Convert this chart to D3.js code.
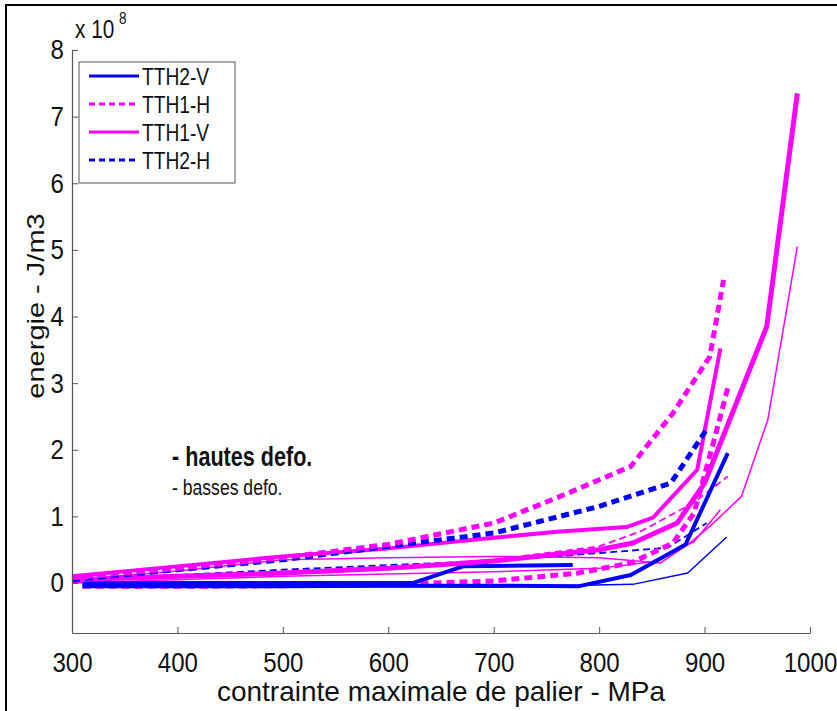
<!DOCTYPE html>
<html><head><meta charset="utf-8">
<script src="https://cdn.jsdelivr.net/npm/d3@7"></script>
<style>body{margin:0;background:#fff}svg{display:block}text{font-family:"Liberation Sans",Arial,sans-serif}</style>
</head><body>
<script>
// x: contrainte maximale de palier (MPa), y: energie (x 1e8 J/m3)
const xTicks = [300,400,500,600,700,800,900,1000];
const yTicks = [0,1,2,3,4,5,6,7,8];
const legendLabels = ["TTH2-V","TTH1-H","TTH1-V","TTH2-H"];

// TTH1-H (magenta, dashed)
const tth1H_hi1 = [[300,0.08],[400,0.22],[500,0.38],[600,0.58],[700,0.9],[760,1.28],[830,1.75],[870,2.55],[905,3.4],[918,4.55]];
const tth1H_hi2 = [[310,-0.05],[400,-0.05],[500,-0.04],[600,-0.02],[700,0.03],[780,0.15],[830,0.3],[870,0.6],[890,1.05],[910,2.2],[922,2.93]];
const tth1H_lo  = [[300,0.02],[500,0.15],[700,0.35],[800,0.55],[840,0.78],[889,1.2],[922,1.6]];
// TTH2-H (blue, dashed)
const tth2H_hi  = [[300,0.05],[400,0.2],[500,0.35],[600,0.55],[700,0.75],[800,1.15],[868,1.5],[903,2.33]];
const tth2H_lo  = [[300,0.02],[400,0.12],[500,0.2],[600,0.27],[700,0.33],[800,0.45],[865,0.53],[902,0.9]];
// TTH1-V (magenta, solid)
const tth1V_hi1 = [[300,0.1],[400,0.25],[500,0.4],[600,0.52],[700,0.68],[760,0.77],[826,0.84],[851,0.98],[893,1.7],[915,3.52]];
const tth1V_hi2 = [[300,0.05],[400,0.1],[500,0.15],[600,0.22],[700,0.33],[800,0.5],[832,0.6],[874,0.9],[900,1.5],[959,3.85],[988,7.35]];
const tth1V_lo1 = [[300,0.05],[400,0.18],[500,0.35],[600,0.38],[700,0.4],[800,0.38],[858,0.3],[886,0.6],[905,0.85],[935,1.3],[960,2.45],[988,5.05]];
const tth1V_lo2 = [[300,0.0],[500,0.1],[700,0.17],[800,0.22],[850,0.32],[890,0.62],[915,1.1]];
// TTH2-V (blue, solid)
const tth2V_hi1 = [[310,-0.05],[400,-0.05],[500,-0.05],[600,-0.04],[700,-0.04],[780,-0.05],[830,0.12],[882,0.58],[922,1.95]];
const tth2V_hi2 = [[310,0.0],[500,0.0],[623,0.0],[671,0.25],[775,0.27]];
const tth2V_lo  = [[310,-0.05],[500,-0.05],[700,-0.06],[832,-0.02],[884,0.15],[921,0.69]];

const BLUE = "#0000ff", MAG = "#ff00ff";
const series = [
  {d: tth2V_lo,  c: BLUE, w: 1.5, dash: null},
  {d: tth1V_lo2, c: MAG,  w: 1.5, dash: null},
  {d: tth1V_lo1, c: MAG,  w: 1.5, dash: null},
  {d: tth2H_lo,  c: BLUE, w: 1.8, dash: "7,4"},
  {d: tth1H_lo,  c: MAG,  w: 1.8, dash: "7,4"},
  {d: tth1H_hi2, c: MAG,  w: 5,   dash: "8,5"},
  {d: tth2V_hi1, c: BLUE, w: 4,   dash: null},
  {d: tth2V_hi2, c: BLUE, w: 4,   dash: null},
  {d: tth1V_hi2, c: MAG,  w: 5,   dash: null},
  {d: tth1V_hi1, c: MAG,  w: 4,   dash: null},
  {d: tth2H_hi,  c: BLUE, w: 5,   dash: "8,5"},
  {d: tth1H_hi1, c: MAG,  w: 5,   dash: "8,5"}
];
const legendStyles = [
  {c: BLUE, dash: null}, {c: MAG, dash: "6,4"}, {c: MAG, dash: null}, {c: BLUE, dash: "6,4"}
];

const W = 837, H = 711;
const SX = 0.8; // horizontal squeeze of the original glyphs
const svg = d3.select("body").append("svg").attr("width", W).attr("height", H);
svg.append("rect").attr("width", W).attr("height", H).attr("fill", "#fff");
// outer frame
svg.append("path").attr("d", `M6,${H} L6,5 L${W},5`).attr("fill","none").attr("stroke","#000").attr("stroke-width",2);

const x = d3.scaleLinear().domain([300,1000]).range([72,810]);
const y = d3.scaleLinear().domain([-0.75,8]).range([633,50]);

const line = d3.line().x(d => x(d[0])).y(d => y(d[1]));
svg.append("g").selectAll("path").data(series).join("path")
  .attr("d", s => line(s.d)).attr("fill","none")
  .attr("stroke", s => s.c).attr("stroke-width", s => s.w)
  .attr("stroke-dasharray", s => s.dash)
  .attr("stroke-linejoin","round");

// helper: squeezed text at (px,py)
function stext(g, px, py, txt, size, opts = {}) {
  const sx = opts.sx ?? SX;
  const t = g.append("text").attr("transform", `translate(${px},${py}) scale(${sx},1)`)
    .attr("font-size", size).attr("fill", "#111").text(txt);
  if (opts.anchor) t.attr("text-anchor", opts.anchor);
  if (opts.weight) t.attr("font-weight", opts.weight);
  if (opts.dy) t.attr("dy", opts.dy);
  return t;
}

// axes
const axisCol = "#555";
const gx = svg.append("g").attr("transform", `translate(0,${y(-0.75)})`)
  .call(d3.axisBottom(x).tickValues(xTicks).tickFormat(d3.format("d")).tickSizeInner(-6).tickSizeOuter(0).tickPadding(19));
const gy = svg.append("g").attr("transform", `translate(${x(300)},0)`)
  .call(d3.axisLeft(y).tickValues(yTicks).tickFormat(d3.format("d")).tickSizeInner(-6).tickSizeOuter(0).tickPadding(8));
[gx, gy].forEach(g => {
  g.select(".domain").attr("stroke", axisCol).attr("stroke-width", 1.2);
  g.selectAll(".tick line").attr("stroke", axisCol);
  g.selectAll("text").attr("font-size", 28).attr("fill", "#111")
    .attr("font-family", '"Liberation Sans", Arial, sans-serif');
});
gx.selectAll("text").attr("dy", "0.71em").attr("transform", `scale(0.86,1)`);
gy.selectAll("text").attr("x", -8 / 0.86).attr("transform", `scale(0.86,1)`);

// exponent label
stext(svg, 75, 38, "x 10", 26);
stext(svg, 119, 24, "8", 17);

// axis titles
stext(svg, (x(300)+x(1000))/2, 701, "contrainte maximale de palier - MPa", 28, {anchor: "middle", sx: 1});
svg.append("text").attr("transform", `translate(44,306) scale(0.85,1) rotate(-90)`).attr("text-anchor","middle")
  .attr("font-size", 29).attr("fill","#111").text("energie - J/m3");

// annotations
stext(svg, 172, 466, "- hautes defo.", 27, {weight: "bold"});
stext(svg, 172, 495, "- basses defo.", 22);

// legend
const lg = svg.append("g");
lg.append("rect").attr("x", 79).attr("y", 62).attr("width", 156).attr("height", 121)
  .attr("fill","#fff").attr("stroke", axisCol).attr("stroke-width", 1);
const ly = [76, 104, 132, 160];
legendLabels.forEach((t, i) => {
  lg.append("line").attr("x1", 89).attr("x2", 139).attr("y1", ly[i]).attr("y2", ly[i])
    .attr("stroke", legendStyles[i].c).attr("stroke-width", 3).attr("stroke-dasharray", legendStyles[i].dash);
  stext(lg, 142, ly[i], t, 24, {dy: "0.36em"});
});
</script>
</body></html>
